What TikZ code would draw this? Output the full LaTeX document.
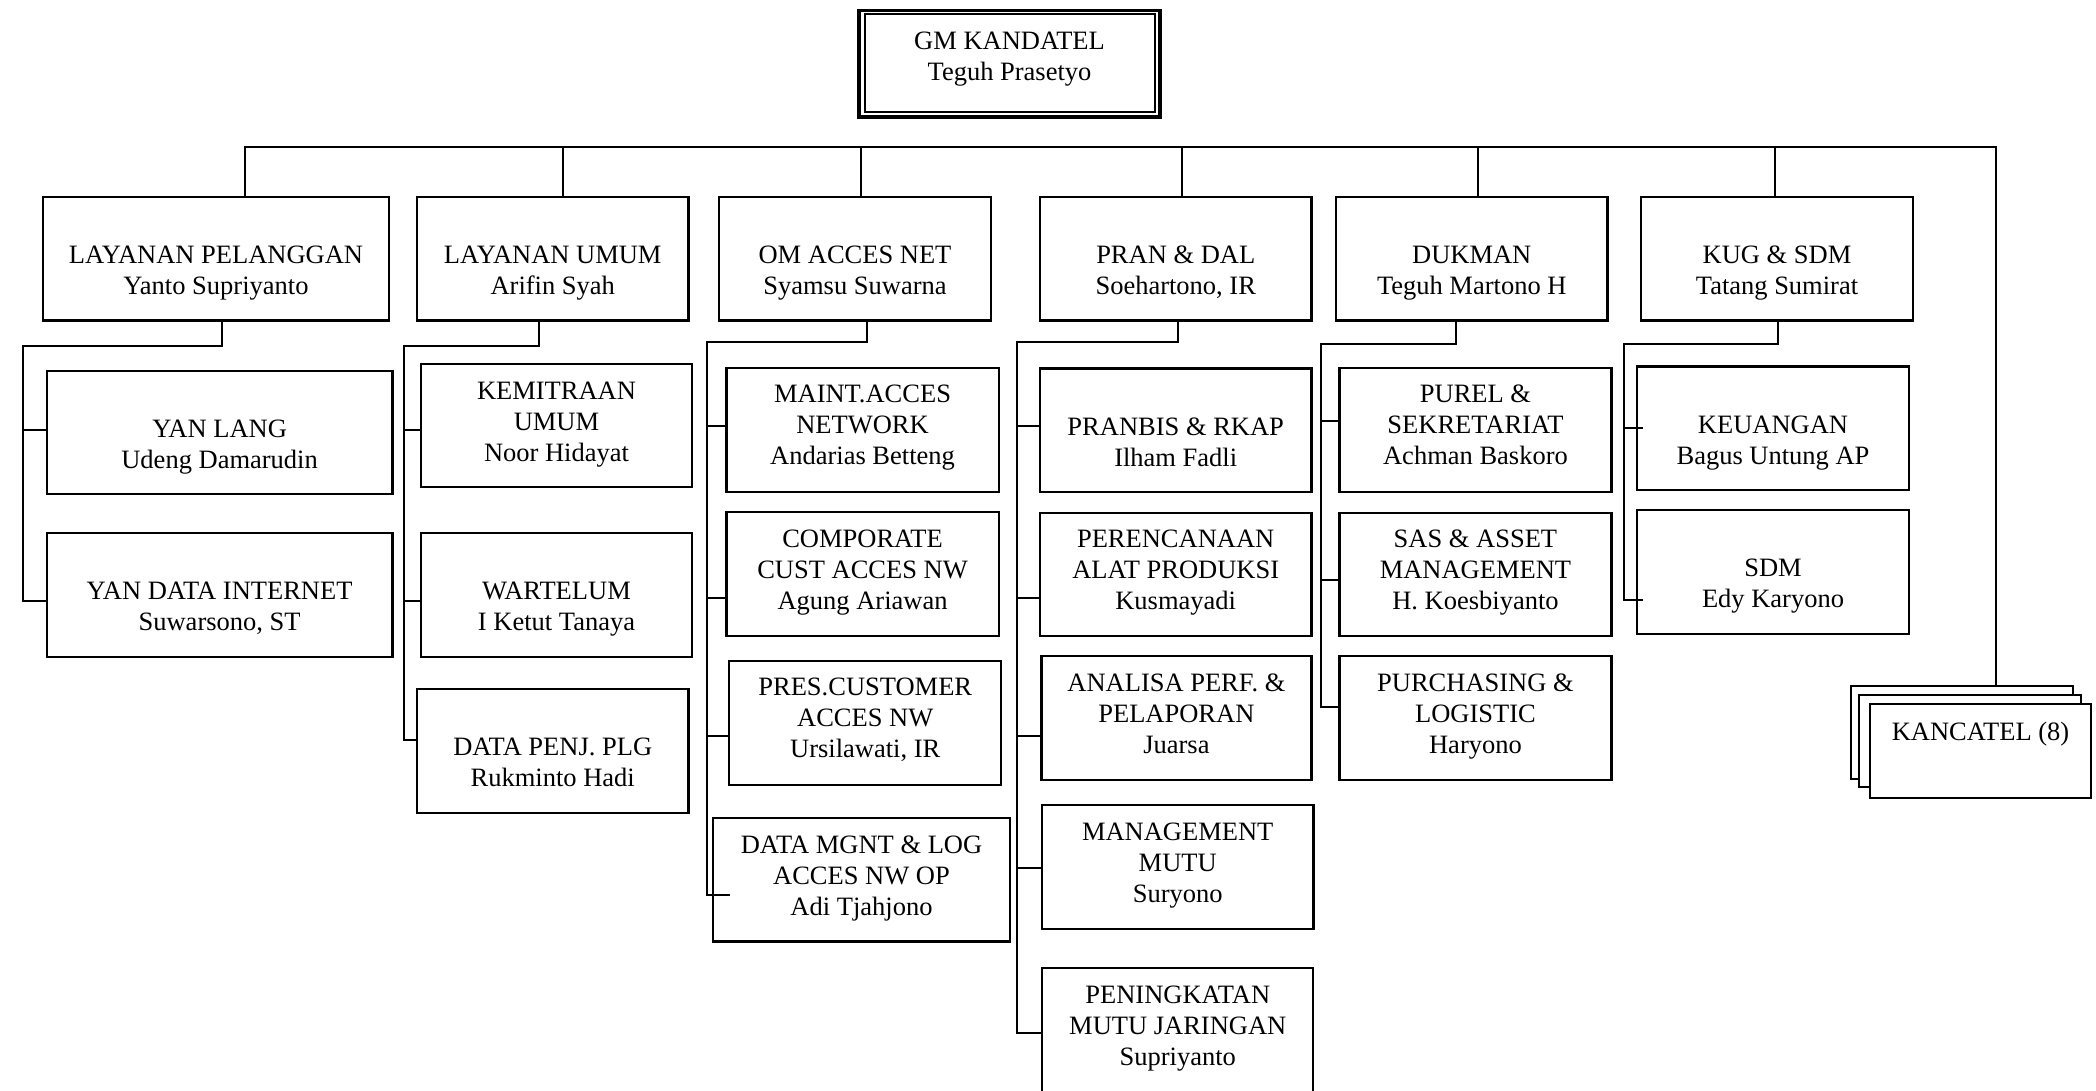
\documentclass[tikz,border=0pt]{standalone}
\usepackage{fontspec}
\setmainfont{Liberation Serif}
\tikzset{
  box/.style={draw, line width=2.2pt, fill=white, inner sep=0pt, outer sep=0pt, anchor=north west},
  txt/.style={inner sep=0pt, outer sep=0pt, align=center, anchor=north, font=\fontsize{26.5}{31}\selectfont},
  conn/.style={line width=2pt},
}
\newcommand\ob[7]{%
  \node[box, minimum width={(#4-#2)*1pt}, minimum height={(#5-#3)*1pt}] (#1) at (#2,#3) {};
  \node[txt] (#1t) at ([yshift=-#6pt]#1.north) {\rule{0pt}{22pt}#7};
}
\begin{document}
\begin{tikzpicture}[x=1pt,y=-1pt]
\useasboundingbox (0,0) rectangle (2096,1091);

% GM
\node[box, line width=3.3pt, minimum width=301pt, minimum height=106.5pt] (gm) at (859,10.5) {};
\node[box, line width=2pt, minimum width=290pt, minimum height=97.5pt] (gmi) at (865,14.5) {};
\node[txt] (gmt) at (1009.5,28) {\rule{0pt}{22pt}GM KANDATEL\\Teguh Prasetyo};

% top level
\ob{lp}{43}{197}{389}{320.5}{44.5}{LAYANAN PELANGGAN\\Yanto Supriyanto}
\ob{lu}{417}{197}{688.5}{320.5}{44.5}{LAYANAN UMUM\\Arifin Syah}
\ob{om}{719}{197}{991}{320.5}{44.5}{OM ACCES NET\\Syamsu Suwarna}
\ob{pd}{1040}{197}{1311.5}{320.5}{44.5}{PRAN \& DAL\\Soehartono, IR}
\ob{dk}{1336}{197}{1607.5}{320.5}{44.5}{DUKMAN\\Teguh Martono H}
\ob{ks}{1641}{197}{1913}{320.5}{44.5}{KUG \& SDM\\Tatang Sumirat}

% sub level
\ob{yl}{46.8}{371}{392.4}{494.3}{44.5}{YAN LANG\\Udeng Damarudin}
\ob{yd}{46.8}{533}{392.4}{657}{44.5}{YAN DATA INTERNET\\Suwarsono, ST}
\ob{km}{421}{364}{692}{487.3}{13}{KEMITRAAN\\UMUM\\Noor Hidayat}
\ob{wt}{421}{533}{692}{657}{44.5}{WARTELUM\\I Ketut Tanaya}
\ob{dp}{417}{688.6}{688.5}{812.6}{44.5}{DATA PENJ. PLG\\Rukminto Hadi}
\ob{ma}{726.5}{367.8}{998.6}{491.9}{13}{MAINT.ACCES\\NETWORK\\Andarias Betteng}
\ob{cc}{726.5}{512}{998.6}{636.1}{13}{COMPORATE\\CUST ACCES NW\\Agung Ariawan}
\ob{pc}{729.2}{660.8}{1001.3}{784.8}{13}{PRES.CUSTOMER\\ACCES NW\\Ursilawati, IR}
\ob{dm}{713}{818}{1010}{941.5}{13}{DATA MGNT \& LOG\\ACCES NW OP\\Adi Tjahjono}
\ob{pr}{1040}{368.5}{1311.4}{491.9}{44.5}{PRANBIS \& RKAP\\Ilham Fadli}
\ob{pa}{1040}{512.7}{1311.4}{636.1}{13}{PERENCANAAN\\ALAT PRODUKSI\\Kusmayadi}
\ob{an}{1041.4}{656.2}{1311.4}{780.3}{13}{ANALISA PERF. \&\\PELAPORAN\\Juarsa}
\ob{mm}{1042}{805}{1313.4}{929.1}{13}{MANAGEMENT\\MUTU\\Suryono}
\ob{pm}{1042.3}{968.3}{1313.3}{1093}{13}{PENINGKATAN\\MUTU JARINGAN\\Supriyanto}
\ob{pu}{1339.4}{367.8}{1611.5}{491.9}{13}{PUREL \&\\SEKRETARIAT\\Achman Baskoro}
\ob{sa}{1339.4}{512.7}{1611.5}{636.1}{13}{SAS \& ASSET\\MANAGEMENT\\H. Koesbiyanto}
\ob{pg}{1339.4}{656.2}{1611.5}{780.3}{13}{PURCHASING \&\\LOGISTIC\\Haryono}
\ob{ku}{1637}{366.5}{1909}{489.8}{44.5}{KEUANGAN\\Bagus Untung AP}
\ob{sd}{1637}{510.3}{1909}{633.6}{44.5}{SDM\\Edy Karyono}

% KANCATEL stack
\node[box, minimum width=222.3pt, minimum height=93.3pt] (kb) at (1850.7,685.7) {};
\node[box, minimum width=221.4pt, minimum height=92.3pt] (kmid) at (1859.3,695) {};
\node[box, minimum width=220.7pt, minimum height=93.4pt] (kf) at (1870,704.3) {};
\node[txt] (kt) at (1980.5,718) {\rule{0pt}{22pt}KANCATEL (8)};

% bus
\coordinate (bL) at (244.5,146.7);
\coordinate (bR) at (1995.8,146.7);
\draw[conn] (bL |- lp.north) -- (bL) -- (bR) -- (bR |- kb.north);
\foreach \x/\n in {562.8/lu, 860.9/om, 1181.7/pd, 1477.8/dk, 1774.6/ks}{
  \coordinate (d\n) at (\x,146.7);
  \draw[conn] (d\n) -- (d\n |- \n.north);
}

% LP group
\coordinate (lpa) at (221.9,345.9);
\coordinate (lps) at (22.7,345.9);
\coordinate (lpe) at (22.7,601.3);
\draw[conn] (lpa |- lp.south) -- (lpa) -- (lps) -- (lpe) -- (lpe -| yd.west);
\coordinate (lpt1) at (22.7,430);
\draw[conn] (lpt1) -- (lpt1 -| yl.west);

% LU group
\coordinate (lua) at (538.7,345.9);
\coordinate (lus) at (403.7,345.9);
\coordinate (lue) at (403.7,739.7);
\draw[conn] (lua |- lu.south) -- (lua) -- (lus) -- (lue) -- (lue -| dp.west);
\coordinate (lut1) at (403.7,430);
\coordinate (lut2) at (403.7,601.3);
\draw[conn] (lut1) -- (lut1 -| km.west);
\draw[conn] (lut2) -- (lut2 -| wt.west);

% OM group
\coordinate (oma) at (866.9,342.4);
\coordinate (oms) at (706.5,342.4);
\coordinate (ome) at (706.5,895);
\draw[conn] (oma |- om.south) -- (oma) -- (oms) -- (ome) -- ([xshift=17pt]ome -| dm.west);
\coordinate (omt1) at (706.5,425.8);
\coordinate (omt2) at (706.5,597.8);
\coordinate (omt3) at (706.5,735.5);
\draw[conn] (omt1) -- (omt1 -| ma.west);
\draw[conn] (omt2) -- (omt2 -| cc.west);
\draw[conn] (omt3) -- (omt3 -| pc.west);

% PD group
\coordinate (pda) at (1178.3,342.4);
\coordinate (pds) at (1016.6,342.4);
\coordinate (pde) at (1016.6,1033.4);
\draw[conn] (pda |- pd.south) -- (pda) -- (pds) -- (pde) -- (pde -| pm.west);
\coordinate (pdt1) at (1016.6,425.8);
\coordinate (pdt2) at (1016.6,597.8);
\coordinate (pdt3) at (1016.6,735.5);
\coordinate (pdt4) at (1016.6,868.3);
\draw[conn] (pdt1) -- (pdt1 -| pr.west);
\draw[conn] (pdt2) -- (pdt2 -| pa.west);
\draw[conn] (pdt3) -- (pdt3 -| an.west);
\draw[conn] (pdt4) -- (pdt4 -| mm.west);

% DK group
\coordinate (dka) at (1455.7,344.1);
\coordinate (dks) at (1320.7,344.1);
\coordinate (dke) at (1320.7,707.3);
\draw[conn] (dka |- dk.south) -- (dka) -- (dks) -- (dke) -- (dke -| pg.west);
\coordinate (dkt1) at (1320.7,421.3);
\coordinate (dkt2) at (1320.7,579.8);
\draw[conn] (dkt1) -- (dkt1 -| pu.west);
\draw[conn] (dkt2) -- (dkt2 -| sa.west);

% KS group
\coordinate (ksa) at (1777.9,344.1);
\coordinate (kss) at (1623.5,344.1);
\coordinate (kse) at (1623.5,599.6);
\draw[conn] (ksa |- ks.south) -- (ksa) -- (kss) -- (kse) -- ([xshift=6pt]kse -| sd.west);
\coordinate (kst1) at (1623.5,427.5);
\draw[conn] (kst1) -- ([xshift=6pt]kst1 -| ku.west);
\end{tikzpicture}
\end{document}
